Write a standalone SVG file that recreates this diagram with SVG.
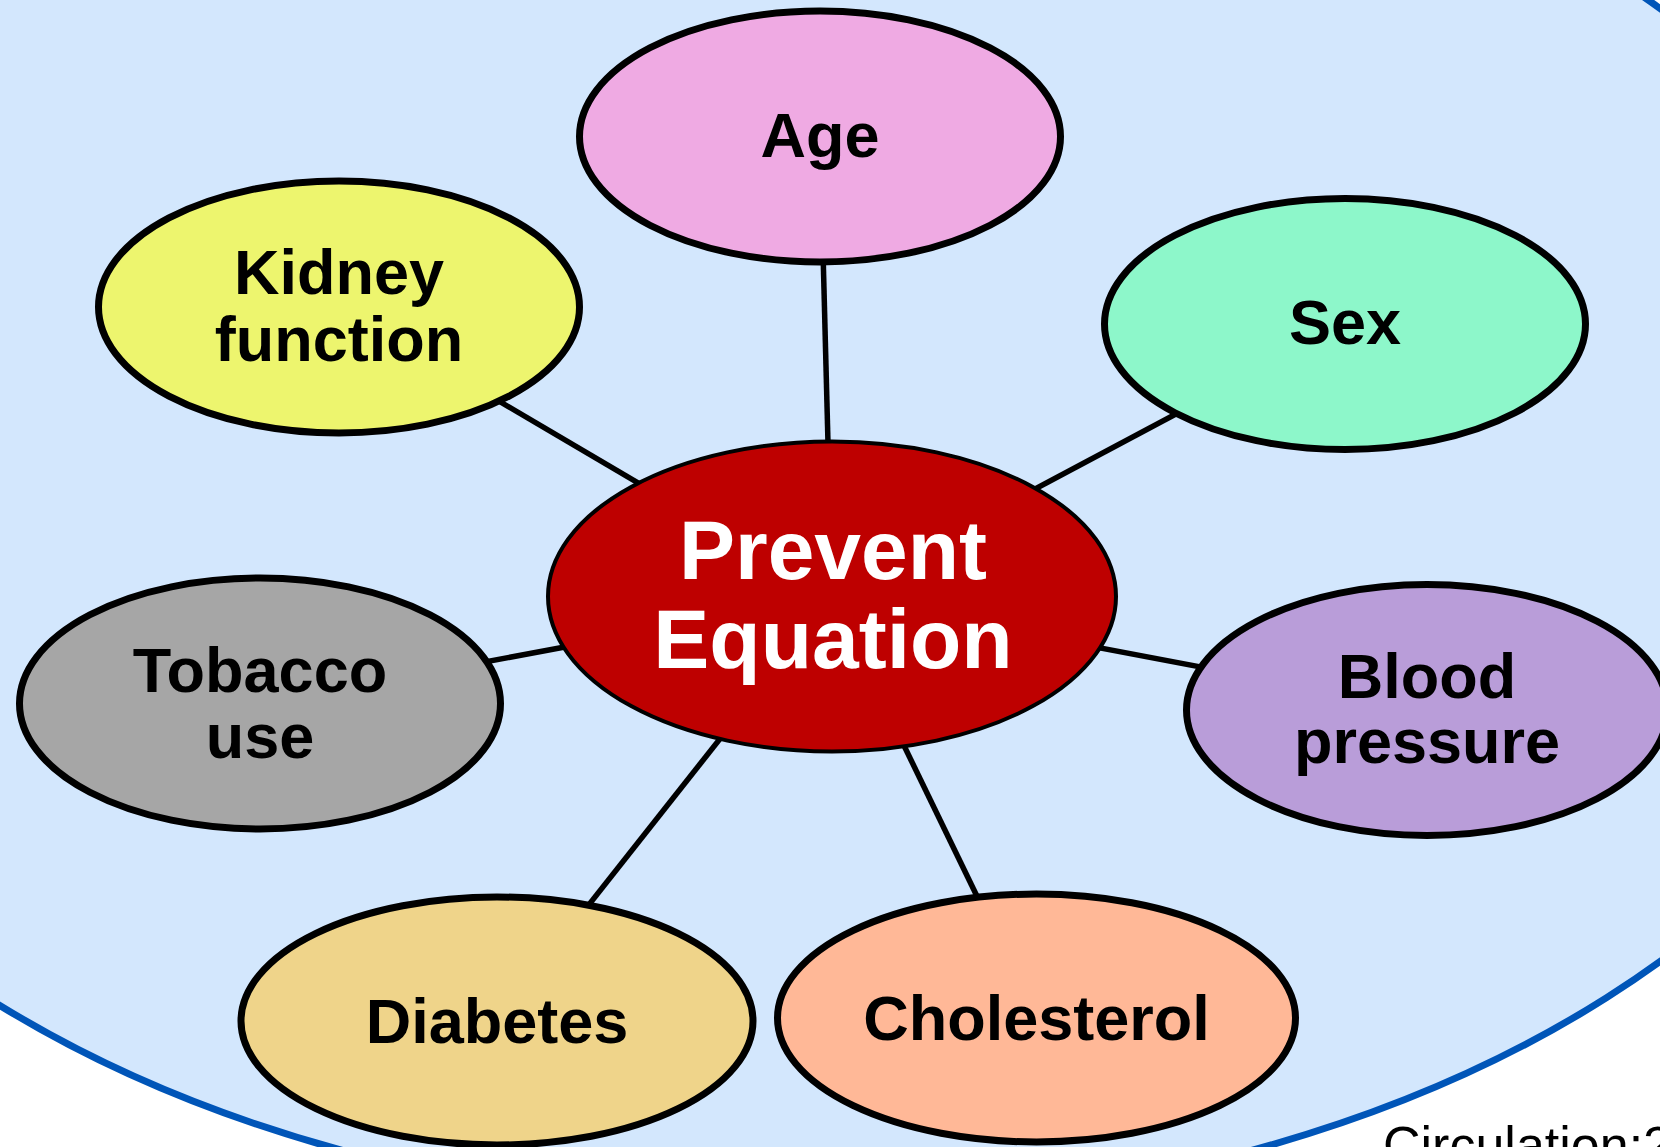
<svg xmlns="http://www.w3.org/2000/svg" width="1660" height="1147" viewBox="0 0 1660 1147">
<style>
.node ellipse{stroke:#000;stroke-width:7}
.lbl{font-family:"Liberation Sans",Arial,sans-serif;font-weight:bold;font-size:63px;fill:#000;text-anchor:middle}
.big{font-size:84px;fill:#fff}
.conn line{stroke:#000;stroke-width:5.5}
</style>
<rect width="1660" height="1147" fill="#fff"/>
<ellipse id="backdrop" cx="797" cy="485" rx="1145" ry="725" fill="#D3E7FD" stroke="#0055B8" stroke-width="7"/>
<g id="connectors" class="conn">
<line x1="832" y1="597" x2="820" y2="136"/>
<line x1="832" y1="597" x2="339" y2="307"/>
<line x1="832" y1="597" x2="1345" y2="324"/>
<line x1="832" y1="597" x2="260" y2="704"/>
<line x1="832" y1="597" x2="1427" y2="710"/>
<line x1="832" y1="597" x2="497" y2="1021"/>
<line x1="832" y1="597" x2="1036" y2="1018"/>
</g>
<g id="age" class="node"><ellipse cx="820" cy="136.5" rx="240.5" ry="125.5" fill="#EFAAE3"/><text class="lbl" x="820" y="157">Age</text></g>
<g id="kidney" class="node"><ellipse cx="339" cy="307" rx="240.5" ry="126" fill="#EDF56E"/><text class="lbl" x="339" y="294">Kidney</text><text class="lbl" x="339" y="361">function</text></g>
<g id="sex" class="node"><ellipse cx="1345" cy="324" rx="240.5" ry="125.5" fill="#8DF7CA"/><text class="lbl" x="1345" y="344">Sex</text></g>
<g id="tobacco" class="node"><ellipse cx="260" cy="703.5" rx="240.5" ry="125.5" fill="#A6A6A6"/><text class="lbl" x="260" y="692">Tobacco</text><text class="lbl" x="260" y="758">use</text></g>
<g id="blood" class="node"><ellipse cx="1427" cy="710" rx="240.5" ry="125.5" fill="#B99DD9"/><text class="lbl" x="1427" y="698">Blood</text><text class="lbl" x="1427" y="763">pressure</text></g>
<g id="diabetes" class="node"><ellipse cx="497" cy="1021" rx="256" ry="124" fill="#EFD48A"/><text class="lbl" x="497" y="1043">Diabetes</text></g>
<g id="cholesterol" class="node"><ellipse cx="1036.5" cy="1018" rx="259" ry="124" fill="#FFB897"/><text class="lbl" x="1036.5" y="1040">Cholesterol</text></g>
<g id="prevent" class="node"><ellipse cx="832" cy="596.5" rx="284" ry="155" fill="#BE0000" style="stroke-width:4"/><text class="lbl big" x="833" y="579">Prevent</text><text class="lbl big" x="833" y="668">Equation</text></g>
<text x="1383" y="1163" font-family="Liberation Sans,Arial,sans-serif" font-size="52" fill="#000">Circulation:2</text>
</svg>
